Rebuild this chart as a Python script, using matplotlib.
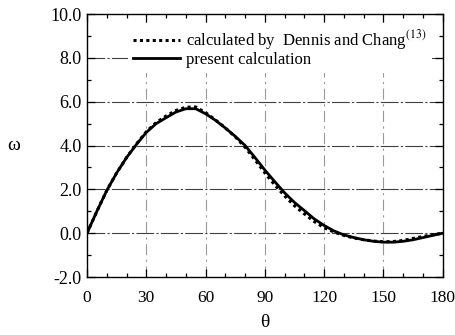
import matplotlib
matplotlib.use("Agg")
import matplotlib.pyplot as plt
from matplotlib.ticker import MultipleLocator

plt.rcParams['font.family'] = ['Liberation Serif', 'DejaVu Serif']
plt.rcParams['mathtext.fontset'] = 'stix'

theta = [0, 5, 10, 15, 20, 25, 30, 35, 40, 45, 50, 55, 60, 65, 70, 75, 80, 85, 90,
         95, 100, 105, 110, 115, 120, 125, 130, 135, 140, 145, 150, 155, 160, 165, 170, 175, 180]
omega_present = [0.0, 1.0, 1.95, 2.75, 3.45, 4.05, 4.6, 5.0, 5.27, 5.53, 5.68, 5.68, 5.45,
                 5.15, 4.8, 4.42, 4.0, 3.45, 2.88, 2.35, 1.84, 1.4, 1.03, 0.65, 0.35, 0.1,
                 -0.08, -0.2, -0.3, -0.37, -0.41, -0.41, -0.37, -0.3, -0.2, -0.1, 0.0]
omega_dennis = [0.0, 1.0, 1.95, 2.75, 3.45, 4.07, 4.63, 5.05, 5.35, 5.6, 5.75, 5.76, 5.5,
                5.17, 4.8, 4.4, 3.92, 3.35, 2.75, 2.2, 1.7, 1.25, 0.88, 0.53, 0.25, 0.05,
                -0.1, -0.22, -0.3, -0.36, -0.39, -0.38, -0.33, -0.24, -0.15, -0.07, 0.0]

x_ticks = [0, 30, 60, 90, 120, 150, 180]
y_ticks = [-2.0, 0.0, 2.0, 4.0, 6.0, 8.0, 10.0]
y_ticklabels = ['-2.0', '0.0', '2.0', '4.0', '6.0', '8.0', '10.0']
label_dennis = 'calculated by  Dennis and Chang$^{\\mathrm{(13)}}$'
label_present = 'present calculation'

fig = plt.figure(figsize=(4.56, 3.35), dpi=100)
ax = fig.add_axes([0.1908, 0.1731, 0.971 - 0.1908, 0.958 - 0.1731])

# grid lines
for yv in [0.0, 2.0, 4.0, 6.0, 8.0]:
    ax.axhline(yv, color='0.25', lw=0.8, dashes=(16, 2, 2, 2), zorder=1)
for xv in [30, 60, 90, 120, 150]:
    ax.axvline(xv, color='0.6', lw=0.8, dashes=(10, 4, 2, 4), zorder=1)

ax.plot(theta, omega_dennis, color='black', lw=2.2, linestyle=(0, (1, 1.1)),
        label=label_dennis, zorder=3)
ax.plot(theta, omega_present, color='black', lw=2.0, label=label_present, zorder=4)

ax.set_xlim(0, 180)
ax.set_ylim(-2.0, 10.0)
ax.set_xticks(x_ticks)
ax.set_yticks(y_ticks)
ax.set_yticklabels(y_ticklabels)
ax.xaxis.set_minor_locator(MultipleLocator(10))
ax.yaxis.set_minor_locator(MultipleLocator(1))
ax.tick_params(which='both', direction='in', top=True, right=True, width=0.9)
ax.tick_params(axis='y', labelsize=13)
ax.tick_params(axis='x', labelsize=12.5)
ax.tick_params(which='major', length=6)
ax.tick_params(which='minor', length=3)
ax.tick_params(axis='x', which='major', pad=9)
ax.tick_params(axis='y', which='major', pad=4)
for s in ax.spines.values():
    s.set_linewidth(1.0)

ax.set_xlabel('θ', fontsize=14, labelpad=6)
ax.set_ylabel('ω', fontsize=14, rotation=0, labelpad=26, va='center')

leg = ax.legend(loc='upper left', bbox_to_anchor=(0.115, 0.965), frameon=True,
                fontsize=12, handlelength=2.8, handletextpad=0.4,
                labelspacing=0.0, borderpad=0.3, borderaxespad=0.0)
leg.get_frame().set_facecolor('white')
leg.get_frame().set_edgecolor('none')
leg.get_frame().set_alpha(1.0)
leg.set_zorder(5)

fig.savefig('out.png', dpi=100)
